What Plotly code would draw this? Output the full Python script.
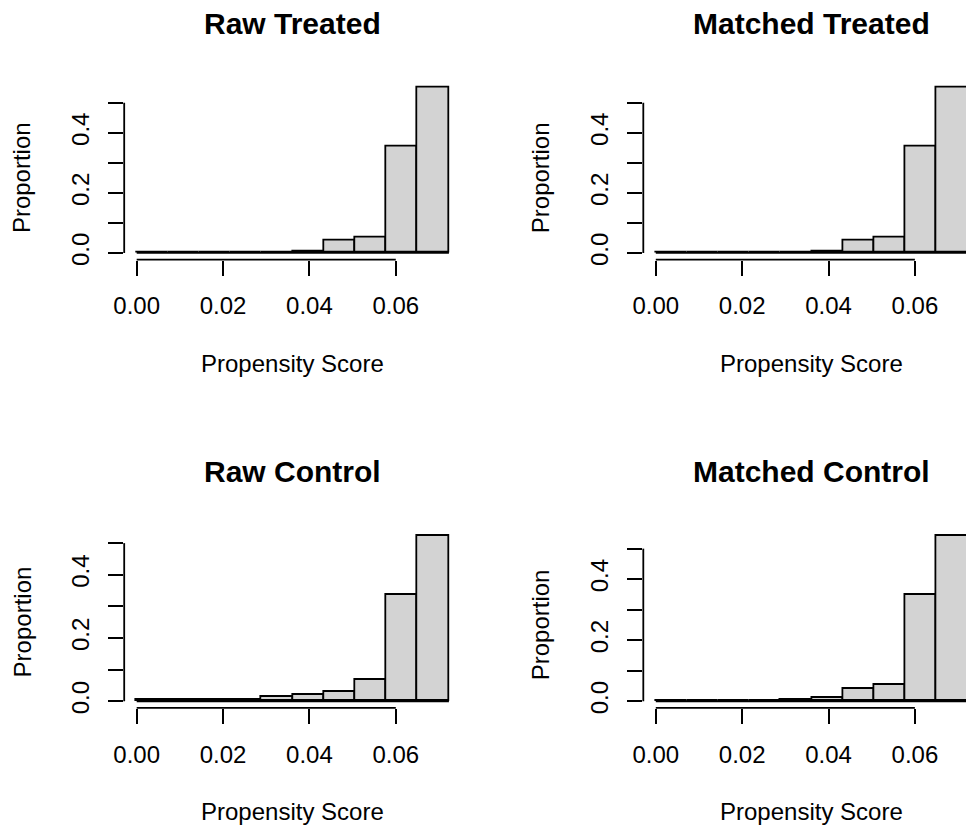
import plotly.graph_objects as go

# ---- data ----
bin_edges = [0.0, 0.00723, 0.01446, 0.02169, 0.02892, 0.03615,
             0.04338, 0.05061, 0.05784, 0.06507, 0.0723]
raw_treated = [0.0, 0.0, 0.0, 0.0, 0.0, 0.003, 0.041, 0.050, 0.354, 0.552]
matched_treated = [0.0, 0.0, 0.0, 0.0, 0.0, 0.003, 0.041, 0.050, 0.354, 0.552]
raw_control = [0.004, 0.004, 0.004, 0.004, 0.013, 0.019, 0.030, 0.068, 0.336, 0.524]
matched_control = [0.0, 0.0, 0.0, 0.0, 0.004, 0.011, 0.040, 0.054, 0.348, 0.543]

panel_titles = ["Raw Treated", "Matched Treated", "Raw Control", "Matched Control"]
panel_values = [raw_treated, matched_treated, raw_control, matched_control]

x_tickvals = [0.0, 0.02, 0.04, 0.06]
x_ticktext = ["0.00", "0.02", "0.04", "0.06"]
y_tickvals = [0.0, 0.1, 0.2, 0.3, 0.4, 0.5]
y_ticktext = ["0.0", "", "0.2", "", "0.4", ""]

x_title = "Propensity Score"
y_title = "Proportion"

# ---- layout geometry (pixels in the 974x827 window) ----
VW, VH = 974, 827
OFF = 8                      # page body margin
W, H = VW - OFF, VH - OFF    # figure size so it fits the window
col_left = [124.2, 643.3]
plot_w = 337.2
row_top = [80.6, 528.9]
plot_h = 179.0

FONT = "Liberation Sans, Arial, sans-serif"
FS = 24
TFS = 30
LW = 1.8

def px_x(p):
    return (p - OFF) / W

def px_y(p):
    return 1 - (p - OFF) / H

centers = [(a + b) / 2 for a, b in zip(bin_edges[:-1], bin_edges[1:])]
widths = [b - a for a, b in zip(bin_edges[:-1], bin_edges[1:])]
span = bin_edges[-1] - bin_edges[0]
xlo = bin_edges[0] - 0.04 * span
xhi = bin_edges[-1] + 0.04 * span

fig = go.Figure()
annotations = []
shapes = []

for i, (title, vals) in enumerate(zip(panel_titles, panel_values)):
    r, c = divmod(i, 2)
    n = i + 1
    xa = "x" if n == 1 else f"x{n}"
    ya = "y" if n == 1 else f"y{n}"

    left = col_left[c]
    right = min(left + plot_w, OFF + W)
    top = row_top[r]
    bottom = top + plot_h
    vis_frac = (right - left) / plot_w
    xr = [xlo, xlo + (xhi - xlo) * vis_frac]
    ymax = max(vals)
    yr = [-0.04 * ymax, 1.04 * ymax]

    fig.add_trace(go.Bar(
        x=centers, y=vals, width=widths,
        marker=dict(color="#D3D3D3", line=dict(color="black", width=LW)),
        xaxis=xa, yaxis=ya, showlegend=False, hoverinfo="x+y",
    ))
    fig.add_trace(go.Scatter(
        x=[bin_edges[0], bin_edges[-1]], y=[0, 0], mode="lines",
        line=dict(color="black", width=LW),
        xaxis=xa, yaxis=ya, showlegend=False, hoverinfo="skip",
    ))

    xkey = "xaxis" if n == 1 else f"xaxis{n}"
    ykey = "yaxis" if n == 1 else f"yaxis{n}"
    fig.update_layout(**{
        xkey: dict(
            domain=[px_x(left), px_x(right)], range=xr, anchor=ya,
            automargin=False,
            showgrid=False, zeroline=False, showline=False,
            tickvals=x_tickvals, ticktext=x_ticktext,
            ticks="outside", ticklen=15, tickwidth=LW, tickcolor="black",
            ticklabelstandoff=10,
            tickfont=dict(family=FONT, size=FS, color="black"),
        ),
        ykey: dict(
            domain=[px_y(bottom), px_y(top)], range=yr, anchor=xa,
            automargin=False,
            showgrid=False, zeroline=False, showline=False,
            tickvals=y_tickvals, ticktext=y_ticktext, tickangle=-90,
            ticks="outside", ticklen=15, tickwidth=LW, tickcolor="black",
            ticklabelstandoff=10,
            tickfont=dict(family=FONT, size=FS, color="black"),
        ),
    })

    # R-style axis lines spanning only the tick range
    shapes.append(dict(type="line", xref=xa, yref=f"{ya} domain",
                       x0=x_tickvals[0], x1=x_tickvals[-1], y0=0, y1=0,
                       line=dict(color="black", width=LW)))
    shapes.append(dict(type="line", xref=f"{xa} domain", yref=ya,
                       x0=0, x1=0, y0=y_tickvals[0], y1=y_tickvals[-1],
                       line=dict(color="black", width=LW)))

    xmid = (xlo + xhi) / 2
    annotations.append(dict(text=f"<b>{title}</b>", xref=xa, x=xmid,
                            yref="paper", y=px_y(top - 57),
                            showarrow=False, xanchor="center", yanchor="middle",
                            font=dict(family=FONT, size=TFS, color="black")))
    annotations.append(dict(text=x_title, xref=xa, x=xmid,
                            yref="paper", y=px_y(bottom + 104),
                            showarrow=False, xanchor="center", yanchor="middle",
                            font=dict(family=FONT, size=FS, color="black")))
    annotations.append(dict(text=y_title, xref="paper", x=px_x(left - 102),
                            yref=ya, y=(y_tickvals[0] + y_tickvals[-1]) / 2,
                            textangle=-90,
                            showarrow=False, xanchor="center", yanchor="middle",
                            font=dict(family=FONT, size=FS, color="black")))

fig.update_layout(
    template="none",
    width=W, height=H,
    margin=dict(l=0, r=0, t=0, b=0, pad=0, autoexpand=False),
    paper_bgcolor="white", plot_bgcolor="white",
    bargap=0,
    annotations=annotations, shapes=shapes,
    font=dict(family=FONT, size=FS, color="black"),
)

fig.write_html("out.html")
